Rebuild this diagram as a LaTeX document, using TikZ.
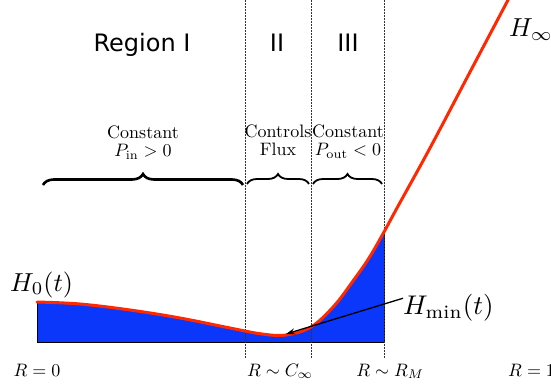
\documentclass[tikz,border=0pt]{standalone}
\usepackage{fontspec}
\newfontfamily\regfont{DejaVu Sans}
\usetikzlibrary{decorations.pathreplacing,arrows.meta}
\definecolor{fillblue}{RGB}{10,55,250}
\definecolor{curvered}{RGB}{255,40,0}
\newcommand{\twolines}[2]{\scalebox{1.8}{\renewcommand{\arraystretch}{0.79}\begin{tabular}[t]{@{}c@{}}#1\\#2\end{tabular}}}
\tikzset{
  divider/.style={densely dotted, line width=0.5pt, black!80},
  regionlabel/.style={font=\regfont\fontsize{24}{28}\selectfont, inner sep=0pt},
  bracelabel/.style={inner sep=0pt, anchor=base},
  bracebig/.style={decorate, decoration={brace, amplitude=11pt}, line width=2.6pt},
  bracesmall/.style={decorate, decoration={brace, amplitude=10pt}, line width=1.8pt},
  axislabel/.style={inner sep=0pt},
  curvelabel/.style={inner sep=0pt, anchor=base west},
}
\begin{document}
\begin{tikzpicture}[x=1pt,y=-1pt]
\useasboundingbox (0,0) rectangle (551,385);
\def\curvepts{(37,302) (80,304) (130,310) (180,318) (230,328) (262,334) (286,335) (311,327) (334,306) (353,281) (369,258) (384,232) (397,208) (430,148) (470,72) (508,0) (514,-12)}
% blue area
\begin{scope}
  \clip (37,0) rectangle (384,342);
  \fill[fillblue] plot[smooth, tension=0.6] coordinates {\curvepts} -- (520,342) -- (37,342) -- cycle;
\end{scope}
\draw[line width=0.8pt] (37,302) -- (37,342) -- (384,342) -- (384,232);
% dividers
\coordinate (d1t) at (245,0); \coordinate (d1b) at (245,358);
\coordinate (d2t) at (311,0); \coordinate (d2b) at (311,358);
\coordinate (d3t) at (384,0); \coordinate (d3b) at (384,358);
\draw[divider] (d1t) -- (d1b);
\draw[divider] (d2t) -- (d2b);
\draw[divider] (d3t) -- (d3b);
% red curve
\draw[curvered, line width=3pt, line cap=round] plot[smooth, tension=0.6] coordinates {\curvepts};
% region labels
\node[regionlabel, anchor=base] (r1) at (142,52) {Region I};
\node[regionlabel, anchor=base] (r2) at (277,52) {II};
\node[regionlabel, anchor=base] (r3) at (348,52) {III};
% braces
\coordinate (b1l) at (43,185); \coordinate (b1r) at (243,185);
\coordinate (b2l) at (247,184); \coordinate (b2r) at (309,184);
\coordinate (b3l) at (313,184); \coordinate (b3r) at (382,184);
\draw[bracebig] (b1l) -- (b1r);
\draw[bracesmall] (b2l) -- (b2r);
\draw[bracesmall] (b3l) -- (b3r);
\node[bracelabel] (t1) at (143,139) {\twolines{Constant}{$P_{\mathrm{in}}>0$}};
\node[bracelabel] (t2) at (278,138) {\twolines{Controls}{Flux}};
\node[bracelabel] (t3) at (348,138) {\twolines{Constant}{$P_{\mathrm{out}}<0$}};
% axis labels
\node[axislabel, anchor=base] (a0) at (37,376) {\scalebox{1.8}{$R=0$}};
\node[axislabel, anchor=base] (a1) at (280,376) {\scalebox{1.8}{$R\sim C_\infty$}};
\node[axislabel, anchor=base] (a2) at (390,376) {\scalebox{1.8}{$R\sim R_M$}};
\node[axislabel, anchor=base west] (a3) at (508,376) {\scalebox{1.8}{$R=1$}};
% curve labels
\node[curvelabel] (h0) at (10,291) {\scalebox{2.6}{$H_0(t)$}};
\node[curvelabel] (hmin) at (403,314) {\scalebox{2.7}{$H_{\min}(t)$}};
\node[curvelabel] (hinf) at (509,37) {\scalebox{2.6}{$H_\infty$}};
\coordinate (minpt) at (286,334);
\draw[line width=1.3pt, -{Stealth[length=9pt,width=6pt]}] (hmin.west) ++(0,-9) -- (minpt);
\end{tikzpicture}
\end{document}
